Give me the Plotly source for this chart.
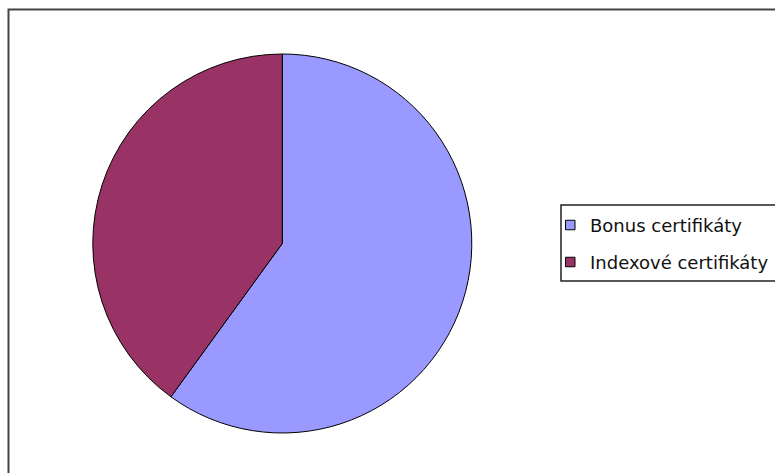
import plotly.graph_objects as go

# Share of certificate types
labels = ["Bonus certifikáty", "Indexové certifikáty"]
values = [60, 40]
colors = ["#9999FF", "#993366"]

W, H = 775, 473

fig = go.Figure(
    go.Pie(
        labels=labels,
        values=values,
        sort=False,
        direction="clockwise",
        rotation=0,
        textinfo="none",
        hoverinfo="label+percent",
        showlegend=False,
        marker=dict(colors=colors, line=dict(color="#000000", width=1)),
        domain=dict(x=[92.8 / W, 471.8 / W], y=[40 / H, 419 / H]),
    )
)

def px_x(v):
    return v / W

def px_y(v):
    return 1 - v / H

# Outer chart frame
fig.add_shape(
    type="rect", xref="paper", yref="paper",
    x0=px_x(8.5), y0=-0.05, x1=1.05, y1=px_y(9.5),
    line=dict(color="#444444", width=2), fillcolor="rgba(0,0,0,0)",
)

# Legend box with a swatch and label per slice
fig.add_shape(
    type="rect", xref="paper", yref="paper",
    x0=px_x(561), y0=px_y(281), x1=1.05, y1=px_y(205),
    line=dict(color="#222222", width=1.5), fillcolor="white",
)
row_y = [225, 262]
for lab, col, yc in zip(labels, colors, row_y):
    fig.add_shape(
        type="rect", xref="paper", yref="paper",
        x0=px_x(565.5), x1=px_x(575), y0=px_y(yc + 4.75), y1=px_y(yc - 4.75),
        line=dict(color="#000000", width=1), fillcolor=col,
    )
    fig.add_annotation(
        x=px_x(588), y=px_y(yc), xref="paper", yref="paper",
        xanchor="left", yanchor="middle", showarrow=False,
        text=lab,
        font=dict(family="DejaVu Sans", size=18, color="#111111"),
    )

fig.update_layout(
    width=W, height=H,
    margin=dict(l=0, r=0, t=0, b=0, autoexpand=False),
    paper_bgcolor="white",
    plot_bgcolor="white",
)

fig.write_html("out.html")
